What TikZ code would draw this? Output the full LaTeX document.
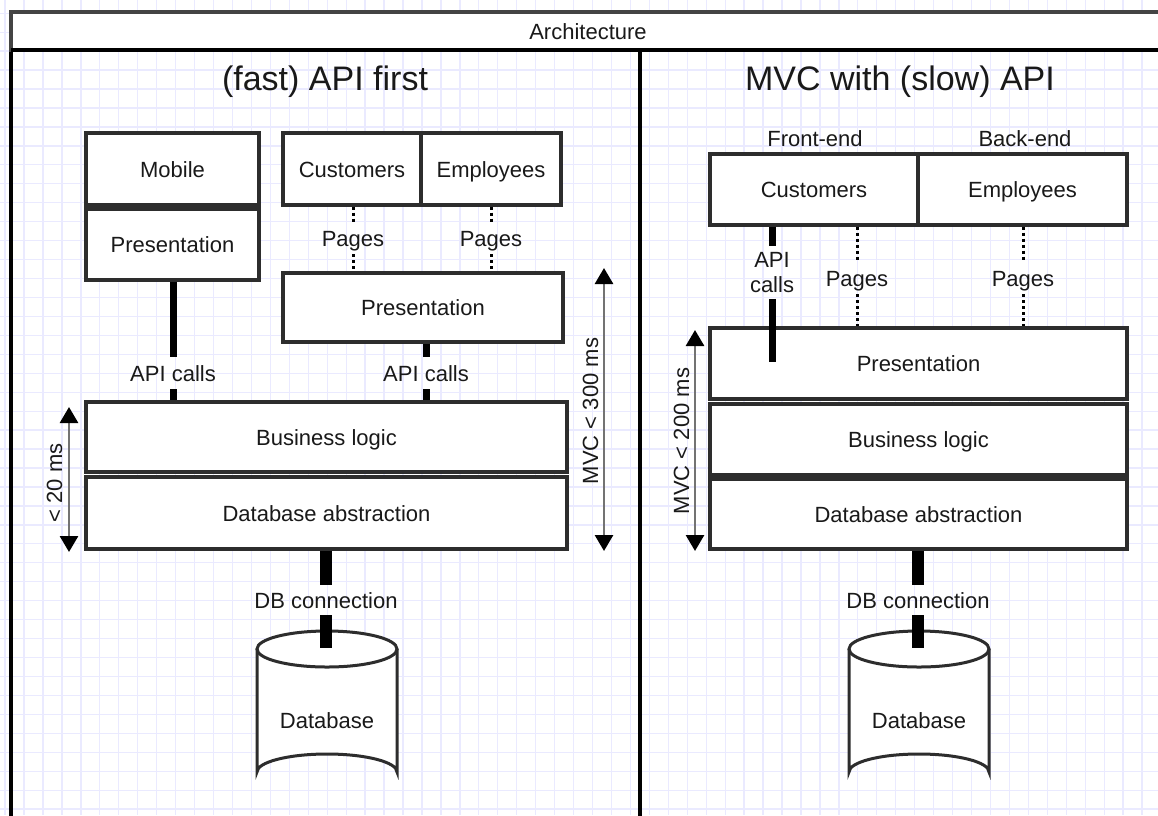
\documentclass[tikz,border=0pt]{standalone}
\usepackage{fontspec}
\setmainfont{Liberation Sans}
\usetikzlibrary{arrows.meta}
\definecolor{gridc}{RGB}{234,234,255}
\definecolor{boxc}{RGB}{45,45,45}
\definecolor{framec}{RGB}{68,68,68}
\definecolor{arrc}{RGB}{115,115,115}
\definecolor{txtc}{RGB}{25,25,25}
\begin{document}
\begin{tikzpicture}[x=1pt,y=-1pt,
  box/.style={draw=boxc,line width=3.3pt,fill=white,inner sep=0pt,text=txtc,font=\fontsize{22}{26}\selectfont,text height=16pt,text depth=0pt},
  lbl/.style={inner sep=0pt,text=txtc,font=\fontsize{22}{26}\selectfont,text height=16pt,text depth=0pt},
  ttl/.style={inner sep=0pt,text=txtc,font=\fontsize{34}{40}\selectfont,text height=24pt,text depth=0pt},
  elbl/.style={lbl,outer ysep=8pt},
  thickc/.style={line width=7pt,black},
  dbc/.style={line width=12pt,black},
  dotc/.style={line width=3pt,black,dash pattern=on 3pt off 3pt},
  dimarr/.style={draw=arrc,line width=2.8pt,{Triangle[length=16pt,width=18pt,color=black]}-{Triangle[length=16pt,width=18pt,color=black]}},
  cyl/.style={draw=boxc,line width=3pt},
]
\useasboundingbox (0,0) rectangle (1158,815);
\clip (0,0) rectangle (1158,815);
\fill[white] (0,0) rectangle (1158,815);
% grid
\foreach \i in {0,...,61} \draw[gridc,line width=1.3pt] (5.05+18.95*\i,0) -- (5.05+18.95*\i,815);
\foreach \j in {0,...,44} \draw[gridc,line width=1.3pt] (0,-5.75+18.95*\j) -- (1158,-5.75+18.95*\j);
% frame
\draw[black,line width=3.5pt] (11,50) rectangle (640,830);
\draw[black,line width=3.5pt] (640,50) rectangle (1180,830);
\draw[framec,line width=3.5pt,fill=white] (11,12) rectangle (1180,50);
\draw[black,line width=3.5pt] (11,50) -- (1180,50);
\node[lbl] (arch) at (588,31) {Architecture};
\node[ttl] (t1) at (325,78) {(fast) API first};
\node[ttl] (t2) at (900,78) {MVC with (slow) API};
% left panel boxes
\node[box,minimum width=173pt,minimum height=72pt] (mobile) at (172.5,169) {Mobile};
\node[box,minimum width=173pt,minimum height=71pt] (mobpres) at (172.5,244.5) {Presentation};
\node[box,minimum width=138pt,minimum height=72pt] (cust1) at (352,169) {Customers};
\node[box,minimum width=140pt,minimum height=72pt] (emp1) at (491,169) {Employees};
\node[box,minimum width=280pt,minimum height=69pt] (pres1) at (423,307.5) {Presentation};
\node[box,minimum width=481pt,minimum height=70pt] (bl1) at (326.5,437) {Business logic};
\node[box,minimum width=481pt,minimum height=72pt] (dba1) at (326.5,513) {Database abstraction};
% right panel boxes
\node[lbl] (fe) at (815,138) {Front-end};
\node[lbl] (be) at (1025,138) {Back-end};
\node[box,minimum width=208pt,minimum height=71pt] (cust2) at (814,189.5) {Customers};
\node[box,minimum width=209pt,minimum height=71pt] (emp2) at (1022.5,189.5) {Employees};
\node[box,minimum width=417pt,minimum height=71pt] (pres2) at (918.5,363.5) {Presentation};
\node[box,minimum width=417pt,minimum height=71pt] (bl2) at (918.5,439.5) {Business logic};
\node[box,minimum width=417pt,minimum height=70pt] (dba2) at (918.5,514) {Database abstraction};
% cylinders
\fill[white] (257,649) -- (257,772) arc (180:360:70 and 18) -- (397,649) -- cycle;
\fill[white] (327,649) ellipse (70 and 18);
\draw[cyl] (257,649) -- (257,772) arc (180:360:70 and 18) -- (397,649);
\draw[cyl] (327,649) ellipse (70 and 18);
\node[lbl] (db1) at (327,720) {Database};
\fill[white] (849,649) -- (849,772) arc (180:360:70 and 18) -- (989,649) -- cycle;
\fill[white] (919,649) ellipse (70 and 18);
\draw[cyl] (849,649) -- (849,772) arc (180:360:70 and 18) -- (989,649);
\draw[cyl] (919,649) ellipse (70 and 18);
\node[lbl] (db2) at (919,720) {Database};
% edge labels left
\node[elbl] (api1) at (173,373) {API calls};
\node[elbl] (api2) at (426,373) {API calls};
\node[elbl] (pg1) at (353,238) {Pages};
\node[elbl] (pg2) at (491,238) {Pages};
\node[elbl,outer ysep=7pt] (dbl1) at (326,600) {DB connection};
\coordinate (db1top) at (326,648);
% edge labels right
\node[inner sep=0pt,outer ysep=6pt,align=center,text=txtc,font=\fontsize{22}{25}\selectfont] (apir) at (772,272.6) {API\\calls};
\node[elbl] (pg3) at (857,278) {Pages};
\node[elbl] (pg4) at (1023,278) {Pages};
\node[elbl,outer ysep=7pt] (dbl2) at (918,600) {DB connection};
\coordinate (db2top) at (918,648);
\coordinate (apirend) at (772,362);
% connectors left
\draw[thickc] (api1.north |- mobpres.south) -- (api1.north);
\draw[thickc] (api1.south) -- (api1.south |- bl1.north);
\draw[thickc] (api2.north |- pres1.south) -- (api2.north);
\draw[thickc] (api2.south) -- (api2.south |- bl1.north);
\draw[dotc] (pg1.north |- cust1.south) -- (pg1.north);
\draw[dotc] (pg1.south) -- (pg1.south |- pres1.north);
\draw[dotc] (pg2.north |- emp1.south) -- (pg2.north);
\draw[dotc] (pg2.south) -- (pg2.south |- pres1.north);
\draw[dbc] (dbl1.north |- dba1.south) -- (dbl1.north);
\draw[dbc] (dbl1.south) -- (db1top);
% connectors right
\draw[thickc] (apir.north |- cust2.south) -- (apir.north);
\draw[thickc] (apir.south) -- (apirend);
\draw[dotc] (pg3.north |- cust2.south) -- (pg3.north);
\draw[dotc] (pg3.south) -- (pg3.south |- pres2.north);
\draw[dotc] (pg4.north |- emp2.south) -- (pg4.north);
\draw[dotc] (pg4.south) -- (pg4.south |- pres2.north);
\draw[dbc] (dbl2.north |- dba2.south) -- (dbl2.north);
\draw[dbc] (dbl2.south) -- (db2top);
% dimension arrows
\coordinate (a1t) at (69,407);
\coordinate (a1b) at (69,552);
\coordinate (a2t) at (604,268);
\coordinate (a2b) at (604,551);
\coordinate (a3t) at (695,330);
\coordinate (a3b) at (695,551);
\draw[dimarr] (a1t) -- (a1b);
\draw[dimarr] (a2t) -- (a2b);
\draw[dimarr] (a3t) -- (a3b);
\node[lbl,rotate=90] (l20) at (54,483) {< 20 ms};
\node[lbl,rotate=90] (l300) at (590,411) {MVC < 300 ms};
\node[lbl,rotate=90] (l200) at (681,441) {MVC < 200 ms};
\end{tikzpicture}
\end{document}
